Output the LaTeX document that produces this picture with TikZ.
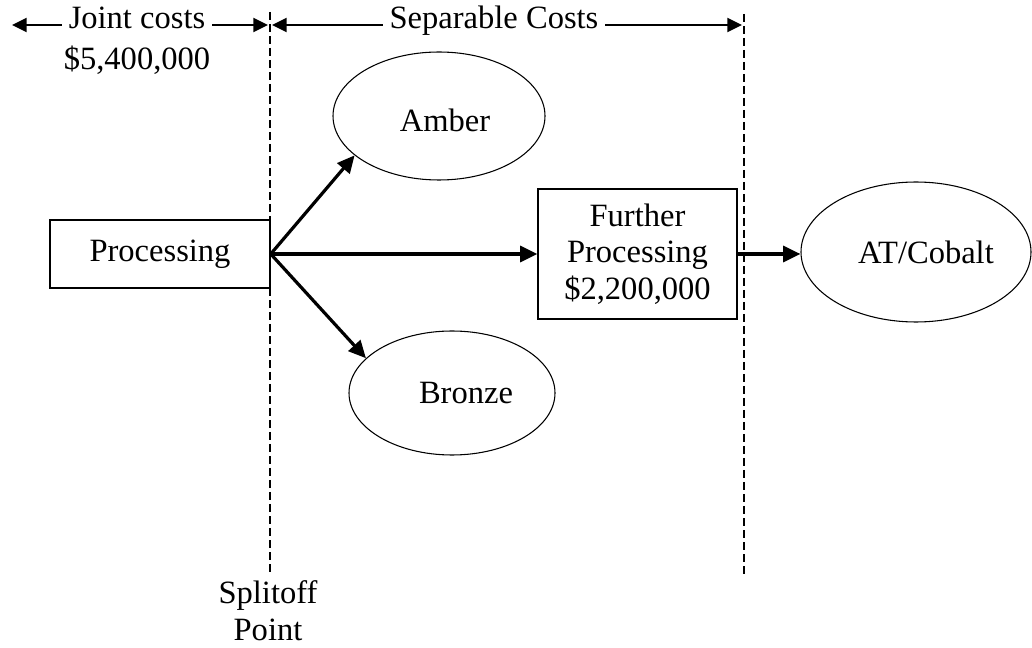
\documentclass[tikz,border=0pt]{standalone}
\usepackage{fontspec}
\setmainfont{Liberation Serif}
\usetikzlibrary{shapes.geometric,arrows.meta}
\begin{document}
\begin{tikzpicture}[x=0.75pt,y=-0.75pt,
  every node/.style={font=\fontsize{24.4}{27.5}\selectfont, inner sep=0pt},
  box/.style={draw, line width=1.1pt, align=center},
  oval/.style={draw, ellipse, line width=0.8pt},
  flow/.style={line width=2.4pt, -{Triangle[length=13pt,width=12pt]}},
  span/.style={line width=1.7pt, -{Triangle[length=11pt,width=10.5pt]}},
  guide/.style={line width=0.8pt, dash pattern=on 6pt off 3pt},
  caption/.style={text height=0.7em, text depth=0.2em, inner xsep=5pt}]
\useasboundingbox (0,0) rectangle (1032,648);

% process boxes and products
\node[box, minimum width=165pt, minimum height=51pt] (proc) at (160,254) {Processing};
\node[box, minimum width=149pt, minimum height=97.5pt] (further) at (637.5,254) {Further\\Processing\\\$2,200,000};
\node[oval, minimum width=159pt, minimum height=96pt,
      label={[xshift=4.5pt,yshift=-3pt]center:Amber}] (amber) at (439,116) {};
\node[oval, minimum width=154.5pt, minimum height=93pt,
      label={[xshift=10.5pt]center:Bronze}] (bronze) at (452,393) {};
\node[oval, minimum width=172.5pt, minimum height=105pt,
      label={[xshift=7.5pt]center:AT/Cobalt}] (cobalt) at (916,252) {};

% splitoff and end-of-processing guides
\coordinate (g1top) at (270,12);
\coordinate (g1bot) at (270,574);
\coordinate (g2top) at (744,14);
\coordinate (g2bot) at (744,574);
\draw[guide] (g1top) -- (g1bot);
\draw[guide] (g2top) -- (g2bot);
\node[align=center] (split) at (268,611) {Splitoff\\Point};

% cost spans along the top
\node[caption] (joint) at (137,25) {Joint costs};
\node (jointamt) at (137,60) {\$5,400,000};
\node[caption] (sep) at (494,25) {Separable Costs};
\coordinate (jl) at (12,25);
\coordinate (jr) at (268,25);
\coordinate (sl) at (272,25);
\coordinate (sr) at (742,25);
\draw[span] (joint.west) -- (jl);
\draw[span] (joint.east) -- (jr);
\draw[span] (sep.west) -- (sl);
\draw[span] (sep.east) -- (sr);

% product flows
\draw[flow] (proc.east) -- (amber.205);
\draw[flow] (proc.east) -- (further.west);
\draw[flow] (proc.east) -- (bronze.158);
\draw[flow] (further.east) -- (further.east -| cobalt.west);
\end{tikzpicture}
\end{document}
